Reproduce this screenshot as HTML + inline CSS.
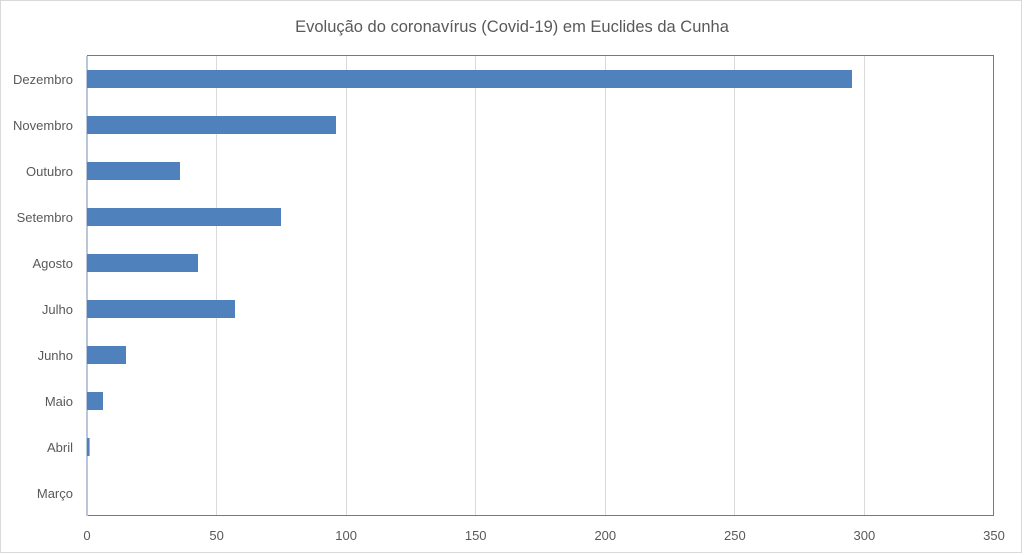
<!DOCTYPE html>
<html><head><style>
body{margin:0;background:#fff;}
svg{display:block;font-family:"Liberation Sans",sans-serif;}
</style></head><body>
<svg width="1024" height="555" xmlns="http://www.w3.org/2000/svg">
<rect x="0.5" y="0.5" width="1021" height="552" fill="#fff" stroke="#d9d9d9" stroke-width="1"/>
<text x="512" y="32" text-anchor="middle" font-size="16.5" fill="#595959">Evolução do coronavírus (Covid-19) em Euclides da Cunha</text>
<g stroke="#d9d9d9" stroke-width="1">
<line x1="216.5" y1="56" x2="216.5" y2="516"/>
<line x1="346.5" y1="56" x2="346.5" y2="516"/>
<line x1="475.5" y1="56" x2="475.5" y2="516"/>
<line x1="605.5" y1="56" x2="605.5" y2="516"/>
<line x1="734.5" y1="56" x2="734.5" y2="516"/>
<line x1="864.5" y1="56" x2="864.5" y2="516"/>
</g>
<rect x="87.5" y="55.5" width="906" height="460" fill="none" stroke="#4f81bd" stroke-width="1"/>
<line x1="87" y1="56" x2="87" y2="516" stroke="#b9c6d9" stroke-width="2"/>
<g fill="#4f81bd">
<rect x="87" y="70" width="765" height="18"/>
<rect x="87" y="116" width="249" height="18"/>
<rect x="87" y="162" width="93" height="18"/>
<rect x="87" y="208" width="194" height="18"/>
<rect x="87" y="254" width="111" height="18"/>
<rect x="87" y="300" width="148" height="18"/>
<rect x="87" y="346" width="39" height="18"/>
<rect x="87" y="392" width="16" height="18"/>
<rect x="87" y="438" width="2.6" height="18"/>
</g>
<g font-size="13" fill="#595959" text-anchor="end">
<text x="73" y="84">Dezembro</text>
<text x="73" y="130">Novembro</text>
<text x="73" y="176">Outubro</text>
<text x="73" y="222">Setembro</text>
<text x="73" y="268">Agosto</text>
<text x="73" y="314">Julho</text>
<text x="73" y="360">Junho</text>
<text x="73" y="406">Maio</text>
<text x="73" y="452">Abril</text>
<text x="73" y="498">Março</text>
</g>
<g font-size="13" fill="#595959" text-anchor="middle">
<text x="87" y="540">0</text>
<text x="216.6" y="540">50</text>
<text x="346.1" y="540">100</text>
<text x="475.7" y="540">150</text>
<text x="605.3" y="540">200</text>
<text x="734.9" y="540">250</text>
<text x="864.4" y="540">300</text>
<text x="994" y="540">350</text>
</g>
</svg>
</body></html>
